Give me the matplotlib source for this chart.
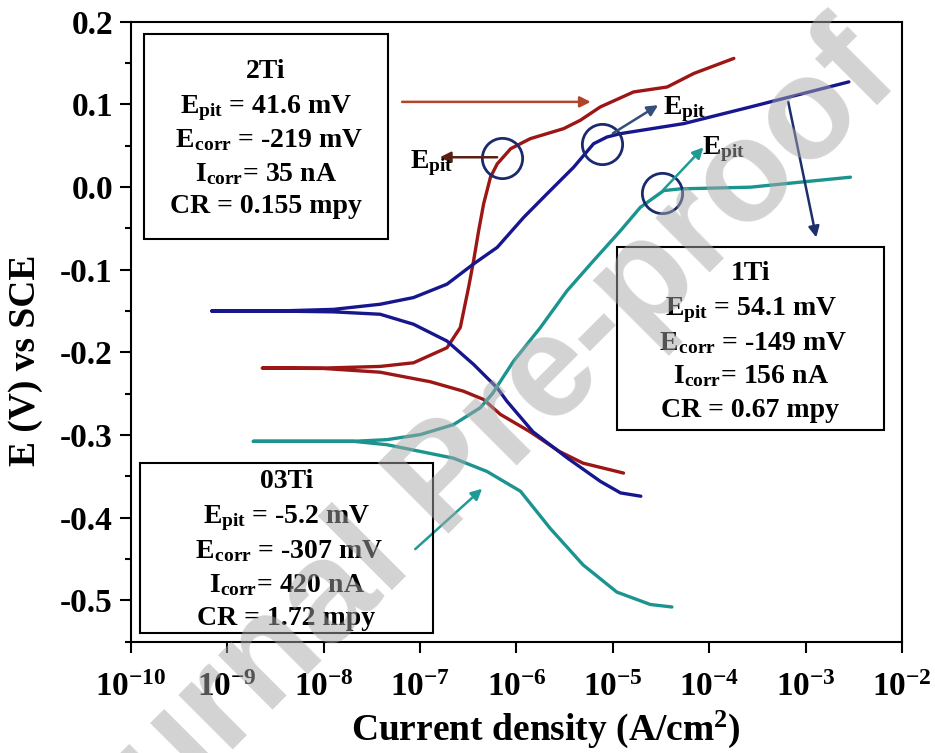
import numpy as np
import matplotlib
matplotlib.use("Agg")
from matplotlib import pyplot as plt
from matplotlib.patches import Rectangle
from matplotlib.ticker import NullLocator

plt.rcParams['font.family'] = 'Liberation Serif'
plt.rcParams['font.weight'] = 'bold'
plt.rcParams['mathtext.fontset'] = 'custom'
plt.rcParams['mathtext.rm'] = 'Liberation Serif:bold'
plt.rcParams['mathtext.it'] = 'Liberation Serif:bold'
plt.rcParams['mathtext.bf'] = 'Liberation Serif:bold'
plt.rcParams['axes.unicode_minus'] = False

# polarisation curves (A/cm2, V): cathodic end -> start -> anodic end
i_1ti = [1.95e-5, 1.2e-5, 7.41e-6, 3.39e-6, 1.48e-6, 7.94e-7, 6.31e-7, 3.59e-7, 1.90e-7, 8.55e-8, 3.85e-8,
         1.26e-8, 3.2e-9, 6.9e-10,
         3.2e-9, 1.26e-8, 3.85e-8, 8.55e-8, 1.90e-7, 3.59e-7, 6.31e-7, 1.19e-6, 2.07e-6, 3.92e-6, 6.31e-6,
         8.69e-6, 1.20e-5, 5.43e-5, 2.68e-4, 2.81e-3]
e_1ti = [-0.374, -0.370, -0.356, -0.328, -0.296, -0.259, -0.243, -0.2146, -0.1863, -0.166, -0.1539,
         -0.151, -0.150, -0.150,
         -0.150, -0.148, -0.1418, -0.1337, -0.1175, -0.093, -0.073, -0.0366, -0.0083, 0.024, 0.0524,
         0.0605, 0.0646, 0.0767, 0.0969, 0.1272]

i_2ti = [1.29e-5, 4.9e-6, 2.8e-6, 1.38e-6, 6.8e-7, 4.56e-7, 2.82e-7, 1.27e-7, 3.85e-8, 1.0e-8, 2.3e-9,
         1.0e-8, 3.85e-8, 8.55e-8, 1.90e-7, 2.61e-7, 3.18e-7, 3.59e-7, 4.05e-7, 4.56e-7, 5.37e-7, 6.31e-7,
         8.71e-7, 1.39e-6, 3.08e-6, 4.59e-6, 7.41e-6, 1.64e-5, 3.66e-5, 6.92e-5, 1.80e-4]
e_2ti = [-0.346, -0.334, -0.320, -0.296, -0.275, -0.257, -0.247, -0.2355, -0.224, -0.2195, -0.219,
         -0.219, -0.217, -0.2126, -0.1944, -0.170, -0.1216, -0.089, -0.0528, -0.0204, 0.0119, 0.028,
         0.0464, 0.0585, 0.0706, 0.0807, 0.0969, 0.115, 0.121, 0.1374, 0.1556]

i_03ti = [4.1e-5, 2.45e-5, 1.1e-5, 4.9e-6, 2.24e-6, 1.10e-6, 4.93e-7, 2.22e-7, 1.0e-7, 4.52e-8, 2.03e-8, 1.86e-9,
          2.03e-8, 4.52e-8, 1.0e-7, 2.22e-7, 4.21e-7, 5.62e-7, 9.33e-7, 1.77e-6, 3.34e-6, 6.31e-6, 1.20e-5,
          1.93e-5, 3.37e-5, 5.02e-5, 2.68e-4, 5.94e-4, 2.92e-3]
e_03ti = [-0.508, -0.505, -0.490, -0.457, -0.413, -0.368, -0.344, -0.328, -0.3198, -0.3117, -0.3076, -0.3076,
          -0.3076, -0.3056, -0.2995, -0.2874, -0.267, -0.250, -0.2106, -0.170, -0.1256, -0.089, -0.0528,
          -0.0245, -0.0043, -0.0022, -0.0002, 0.0039, 0.0119]

# pitting points (circled)
pit_i = [7.1e-7, 7.8e-6, 3.2e-5]
pit_e = [0.035, 0.052, -0.007]

# arrows: (tail, head, colour)
arrows = [
    ((6.5e-8, 0.103), (5.9e-6, 0.103), '#b0452a'),
    ((6.3e-7, 0.036), (1.6e-7, 0.036), '#5c1f14'),
    ((1.0e-5, 0.065), (2.95e-5, 0.099), '#34507a'),
    ((3.3e-5, -0.004), (8.7e-5, 0.048), '#1f9a94'),
    ((6.6e-4, 0.103), (1.29e-3, -0.061), '#1c2f6b'),
    ((8.9e-8, -0.438), (4.4e-7, -0.365), '#1f9a94'),
]
epit_labels = [(7.9e-8, 0.0225), (3.35e-5, 0.088), (8.5e-5, 0.040)]

boxes = {
    '2Ti': ['2Ti', r'E$_{pit}$ = 41.6 mV', r' E$_{corr}$ = -219 mV', r'I$_{corr}$= 35 nA', 'CR = 0.155 mpy'],
    '1Ti': ['1Ti', r'E$_{pit}$ = 54.1 mV', r' E$_{corr}$ = -149 mV', r'I$_{corr}$= 156 nA', 'CR = 0.67 mpy'],
    '03Ti': ['03Ti', r'E$_{pit}$ = -5.2 mV', r' E$_{corr}$ = -307 mV', r'I$_{corr}$= 420 nA', 'CR = 1.72 mpy'],
}
# box rectangle (x0, y0, x1, y1) and text line baselines, axes fraction
box_geom = {
    '2Ti': ((0.0169, 0.6495, 0.3333, 0.980), 0.175, [0.909, 0.8527, 0.7979, 0.7431, 0.6915]),
    '1Ti': ((0.6304, 0.3415, 0.9767, 0.6366), 0.8035, [0.5834, 0.5269, 0.4705, 0.4173, 0.3624]),
    '03Ti': ((0.0117, 0.014, 0.3917, 0.288), 0.2017, [0.2479, 0.1915, 0.135, 0.0802, 0.0269]),
}

red = '#9c1616'
blue = '#16168e'
teal = '#1b9490'
navy = '#1a2a6c'

fig = plt.figure(figsize=(9.35, 7.53), dpi=100)
ax = fig.add_axes([0.1401, 0.1478, 0.8246, 0.8234])

ax.plot(i_2ti, e_2ti, color=red, lw=2.4, solid_capstyle='round', solid_joinstyle='round')
ax.plot(i_1ti, e_1ti, color=blue, lw=2.4, solid_capstyle='round', solid_joinstyle='round')
ax.plot(i_03ti, e_03ti, color=teal, lw=2.4, solid_capstyle='round', solid_joinstyle='round')

ax.plot(pit_i, pit_e, 'o', ms=29, mfc='none', mec=navy, mew=2.0)

for tail, head, c in arrows:
    ax.annotate('', xy=head, xytext=tail,
                arrowprops=dict(arrowstyle='-|>', color=c, lw=1.8, mutation_scale=16,
                                shrinkA=0, shrinkB=0))
for x, y in epit_labels:
    ax.text(x, y, r'E$_{pit}$', fontsize=20, ha='left', va='baseline')

for key, lines in boxes.items():
    (x0, y0, x1, y1), xc, ys = box_geom[key]
    ax.add_patch(Rectangle((x0, y0), x1 - x0, y1 - y0, transform=ax.transAxes,
                           fill=False, ec='black', lw=1.5, zorder=5))
    for s, y in zip(lines, ys):
        ax.text(xc, y, s, transform=ax.transAxes, fontsize=20, ha='center', va='baseline', zorder=6)

ax.set_xscale('log')
ax.set_xlim(1e-10, 1e-2)
ax.set_ylim(-0.55, 0.2)
xt = [10.0 ** k for k in range(-10, -1)]
ax.set_xticks(xt)
ax.set_xticklabels([r'$10^{%d}$' % k for k in range(-10, -1)])
ax.xaxis.set_minor_locator(NullLocator())
yt = [-0.5, -0.4, -0.3, -0.2, -0.1, 0.0, 0.1, 0.2]
ax.set_yticks(yt)
ax.set_yticklabels(['%.1f' % v for v in yt])
ax.set_yticks(np.arange(-0.55, 0.2, 0.1), minor=True)
ax.tick_params(axis='both', which='major', direction='out', length=8, width=1.5, labelsize=24)
ax.tick_params(axis='y', which='major', pad=5)
ax.tick_params(axis='x', which='major', pad=14)
ax.tick_params(axis='y', which='minor', direction='out', length=4, width=1.5)
for sp in ax.spines.values():
    sp.set_linewidth(1.5)

ax.set_xlabel(r'Current density (A/cm$^2$)', fontsize=27, fontweight='bold')
ax.set_ylabel('E (V) vs SCE', fontsize=27, fontweight='bold')
ax.xaxis.set_label_coords(0.538, -0.108)
ax.yaxis.set_label_coords(-0.114, 0.454)

# watermark
fig.text(0.478, 0.359, 'Journal Pre-proof', family='Liberation Sans', fontweight='bold',
         fontsize=104, rotation=45, color='#a8a8a8', alpha=0.5, ha='center', va='center', zorder=10)

fig.savefig('out.png', dpi=100)
